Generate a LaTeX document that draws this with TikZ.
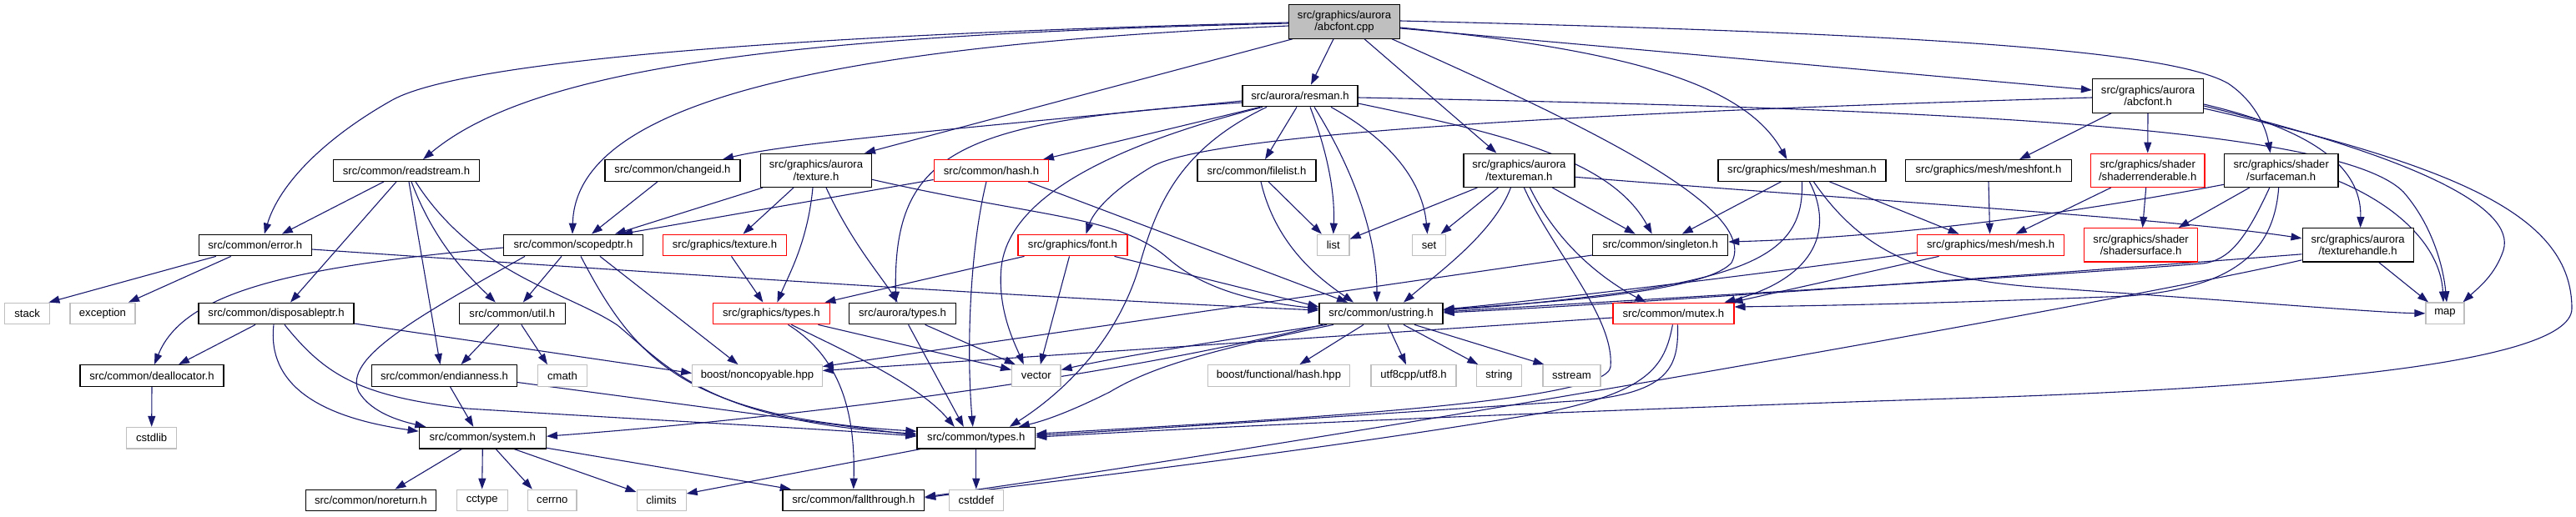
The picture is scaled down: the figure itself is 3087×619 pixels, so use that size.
\documentclass[tikz,border=0pt]{standalone}
\usepackage{fontspec}
\setmainfont{Liberation Sans}
\usetikzlibrary{arrows.meta}
\pgfdeclarelayer{bglayer}
\pgfdeclarelayer{edgelayer}
\pgfsetlayers{bglayer,edgelayer,main}
\definecolor{mblue}{RGB}{25,25,112}
\definecolor{greyc}{RGB}{191,191,191}
\newcommand{\dxfont}{\fontsize{13.1}{14.5}\selectfont}
\tikzset{
  nb/.style={draw=black, line width=1.2pt, fill=white, inner sep=0pt, minimum height=25.6pt, font=\dxfont, align=center},
  nr/.style={nb, draw=red},
  ng/.style={nb, draw=greyc},
  two/.style={minimum height=40.3pt},
  e/.style={draw=mblue, line width=1.1pt, -{Triangle[length=13pt,width=9pt]}},
}
\begin{document}
\begin{tikzpicture}[x=1pt,y=-1pt]
\useasboundingbox (0,0) rectangle (3087,619);
\begin{pgfonlayer}{bglayer}
\fill[white] (0,0) rectangle (3087,619);
\end{pgfonlayer}
% row 0-1
\node[nb, two, fill=greyc, minimum width=133pt] (root) at (1611,26) {src/graphics/aurora\\/abcfont.cpp};
\node[nb, minimum width=138pt] (resman) at (1558,115) {src/aurora/resman.h};
\node[nb, two, minimum width=133pt] (abcfonth) at (2574,115) {src/graphics/aurora\\/abcfont.h};
% row 2
\node[nb, minimum width=175pt] (readstream) at (487,204.5) {src/common/readstream.h};
\node[nb, minimum width=162pt] (changeid) at (806,204.5) {src/common/changeid.h};
\node[nb, two, minimum width=133pt] (atexture) at (978,204.3) {src/graphics/aurora\\/texture.h};
\node[nr, minimum width=137.5pt] (hash) at (1188,204.5) {src/common/hash.h};
\node[nb, minimum width=142pt] (filelist) at (1506,204.5) {src/common/filelist.h};
\node[nb, two, minimum width=133pt] (textureman) at (1820.4,204.3) {src/graphics/aurora\\/textureman.h};
\node[nb, minimum width=201pt] (meshman) at (2159.4,204.5) {src/graphics/mesh/meshman.h};
\node[nb, minimum width=199pt] (meshfont) at (2383,204.5) {src/graphics/mesh/meshfont.h};
\node[nr, two, minimum width=136.5pt] (shaderrend) at (2573.7,204.3) {src/graphics/shader\\/shaderrenderable.h};
\node[nb, two, minimum width=136.5pt] (surfaceman) at (2733.7,204.3) {src/graphics/shader\\/surfaceman.h};
% row 3
\node[nb, minimum width=135pt] (error) at (305.8,294) {src/common/error.h};
\node[nb, minimum width=167pt] (scopedptr) at (687,294) {src/common/scopedptr.h};
\node[nr, minimum width=148pt] (gtexture) at (868.5,294) {src/graphics/texture.h};
\node[nr, minimum width=131pt] (font) at (1285.5,294) {src/graphics/font.h};
\node[ng, minimum width=38.5pt] (list) at (1597.8,294) {list};
\node[ng, minimum width=40pt] (set) at (1712.5,294) {set};
\node[nb, minimum width=162pt] (singleton) at (1989.7,294) {src/common/singleton.h};
\node[nr, minimum width=176pt] (mesh) at (2385.6,294) {src/graphics/mesh/mesh.h};
\node[nr, two, minimum width=136pt] (shadersurf) at (2565.6,293.8) {src/graphics/shader\\/shadersurface.h};
\node[nb, two, minimum width=133pt] (texhandle) at (2825.6,293.8) {src/graphics/aurora\\/texturehandle.h};
% row 4
\node[ng, minimum width=54.4pt] (stack) at (32.6,376) {stack};
\node[ng, minimum width=78pt] (exception) at (123,376) {exception};
\node[nb, minimum width=186pt] (disposable) at (331,376) {src/common/disposableptr.h};
\node[nb, minimum width=127pt] (util) at (613.8,376) {src/common/util.h};
\node[nr, minimum width=140pt] (gtypes) at (924.4,376) {src/graphics/types.h};
\node[nb, minimum width=127.5pt] (atypes) at (1081.6,376) {src/aurora/types.h};
\node[nb, minimum width=148pt] (ustring) at (1655,376) {src/common/ustring.h};
\node[nr, minimum width=145pt] (mutex) at (2005.4,376) {src/common/mutex.h};
\node[ng, minimum width=46pt] (map) at (2930,375.8) {map};
% row 5
\node[nb, minimum width=172pt] (dealloc) at (182,450.5) {src/common/deallocator.h};
\node[nb, minimum width=174pt] (endian) at (532.5,450.5) {src/common/endianness.h};
\node[ng, minimum width=59pt] (cmath) at (674,450.5) {cmath};
\node[ng, minimum width=155.5pt] (noncopy) at (907.5,450.5) {boost/noncopyable.hpp};
\node[ng, minimum width=58.5pt] (vector) at (1241.8,450.5) {vector};
\node[ng, minimum width=170pt] (fhash) at (1532.4,450.5) {boost/functional/hash.hpp};
\node[ng, minimum width=102pt] (utf8) at (1694,450.5) {utf8cpp/utf8.h};
\node[ng, minimum width=54pt] (string) at (1796.3,450.5) {string};
\node[ng, minimum width=69pt] (sstream) at (1883.4,450.5) {sstream};
% row 6
\node[ng, minimum width=60pt] (cstdlib) at (181.7,525.2) {cstdlib};
\node[nb, minimum width=152pt] (system) at (578.3,525.2) {src/common/system.h};
\node[nb, minimum width=141.7pt] (types) at (1169.8,525.2) {src/common/types.h};
% row 7
\node[nb, minimum width=156pt] (noreturn) at (444.4,600) {src/common/noreturn.h};
\node[ng, minimum width=61pt] (cctype) at (577.7,600) {cctype};
\node[ng, minimum width=58.5pt] (cerrno) at (661.8,600) {cerrno};
\node[ng, minimum width=59pt] (climits) at (792.6,600) {climits};
\node[nb, minimum width=169.5pt] (fallthrough) at (1022.8,600) {src/common/fallthrough.h};
\node[ng, minimum width=65pt] (cstddef) at (1169.8,600) {cstddef};

\begin{pgfonlayer}{edgelayer}
% root
\draw[e] ([yshift=-1pt]root.west) .. controls (1000,40) and (560,70) .. (470,120) .. controls (390,165) and (335,220) .. ([xshift=11pt]error.north);
\draw[e] ([yshift=-2pt]root.west) .. controls (950,42) and (640,80) .. ([xshift=20pt]readstream.north);
\draw[e] ([yshift=-5pt]root.west) .. controls (1000,55) and (690,120) .. ([xshift=-1pt]scopedptr.north);
\draw[e] ([xshift=-62pt]root.south) -- ([xshift=58pt]atexture.north);
\draw[e] ([xshift=-13pt]root.south) -- ([xshift=13pt]resman.north);
\draw[e] ([xshift=24pt]root.south) -- ([xshift=-27pt]textureman.north);
\draw[e] ([xshift=57pt]root.south) .. controls (1900,150) and (2110,250) .. (2075,315) .. controls (2040,355) and (1800,365) .. ([yshift=4pt]ustring.east);
\draw[e] ([yshift=-7pt]root.east) .. controls (1950,60) and (2090,100) .. ([xshift=-18pt]meshman.north);
\draw[e] ([yshift=-8pt]root.east) -- ([yshift=7pt]abcfonth.west);
\draw[e] ([yshift=1pt]root.east) .. controls (2300,40) and (2600,60) .. (2670,100) .. controls (2700,120) and (2715,150) .. ([xshift=-13pt]surfaceman.north);
% resman
\draw[e] ([yshift=-6pt]resman.west) .. controls (1200,150) and (950,170) .. ([xshift=60pt]changeid.north);
\draw[e] ([yshift=-8pt]resman.west) .. controls (1150,145) and (1070,180) .. ([xshift=-8pt]atypes.north);
\draw[e] ([xshift=-48pt]resman.south) -- ([xshift=62pt]hash.north);
\draw[e] ([xshift=-45pt]resman.south) .. controls (1350,170) and (1210,230) .. (1200,320) .. controls (1195,370) and (1215,410) .. ([xshift=-15pt]vector.north);
\draw[e] ([xshift=-40pt]resman.south) .. controls (1410,180) and (1385,250) .. (1365,320) .. controls (1335,420) and (1260,480) .. ([xshift=40pt]types.north);
\draw[e] ([xshift=-4pt]resman.south) -- ([xshift=10pt]filelist.north);
\draw[e] ([xshift=12pt]resman.south) .. controls (1590,180) and (1600,230) .. (list.north);
\draw[e] ([xshift=17pt]resman.south) .. controls (1620,200) and (1650,280) .. ([xshift=-5pt]ustring.north);
\draw[e] ([xshift=37pt]resman.south) .. controls (1670,170) and (1705,220) .. ([xshift=-2pt]set.north);
\draw[e] ([yshift=-9pt]resman.east) .. controls (1800,160) and (1930,190) .. ([xshift=-10pt]singleton.north);
\draw[e] ([yshift=-2pt]resman.east) .. controls (2300,130) and (2800,150) .. (2880,230) .. controls (2915,270) and (2928,320) .. ([xshift=2pt]map.north);
% abcfont.h
\draw[e] ([xshift=-44pt]abcfonth.south) -- ([xshift=37pt]meshfont.north);
\draw[e] (abcfonth.south) -- (shaderrend.north);
\draw[e] ([yshift=-2pt]abcfonth.west) .. controls (1900,135) and (1450,160) .. (1380,200) .. controls (1330,230) and (1310,255) .. ([xshift=16pt]font.north);
\draw[e] ([yshift=-10pt]abcfonth.east) .. controls (2790,160) and (2830,210) .. ([xshift=3pt]texhandle.north);
\draw[e] ([yshift=-12pt]abcfonth.east) .. controls (2900,190) and (3015,250) .. (3000,300) .. controls (2990,330) and (2970,345) .. ([xshift=-2pt]map.north east);
\draw[e] ([yshift=-15pt]abcfonth.east) .. controls (2950,200) and (3082,260) .. (3082,370) .. controls (3082,440) and (2700,465) .. (2400,476) .. controls (1800,495) and (1400,515) .. ([yshift=1pt]types.east);
% textureman
\draw[e] ([xshift=-50pt]textureman.south) -- ([yshift=-6pt]list.north east);
\draw[e] ([xshift=-25pt]textureman.south) -- ([xshift=14pt]set.north);
\draw[e] ([xshift=-10pt]textureman.south) .. controls (1790,280) and (1720,330) .. ([xshift=27pt]ustring.north);
\draw[e] ([xshift=6pt]textureman.south) .. controls (1860,300) and (1935,380) .. (1930,440) .. controls (1925,480) and (1600,500) .. ([yshift=5pt]types.east);
\draw[e] ([xshift=13pt]textureman.south) .. controls (1870,300) and (1930,340) .. ([xshift=-33pt]mutex.north);
\draw[e] ([xshift=40pt]textureman.south) -- ([xshift=-30pt]singleton.north);
\draw[e] ([yshift=-8pt]textureman.east) .. controls (2300,245) and (2600,262) .. ([yshift=8pt]texhandle.west);
% meshman
\draw[e] ([xshift=-25pt]meshman.south) -- ([xshift=26pt]singleton.north);
\draw[e] ([xshift=33pt]meshman.south) -- ([xshift=-38pt]mesh.north);
\draw[e] (meshman.south) .. controls (2162,290) and (2120,325) .. (1950,350) .. controls (1830,366) and (1760,370) .. ([yshift=4pt]ustring.east);
\draw[e] ([xshift=9pt]meshman.south) .. controls (2200,280) and (2170,335) .. ([xshift=-12pt]mutex.north east);
\draw[e] ([xshift=14pt]meshman.south) .. controls (2230,300) and (2300,335) .. (2450,345) .. controls (2700,362) and (2850,375) .. (map.west);
% meshfont, shaderrenderable
\draw[e] (meshfont.south) -- ([xshift=-1pt]mesh.north);
\draw[e] ([xshift=-44pt]shaderrend.south) -- ([xshift=30pt]mesh.north);
\draw[e] ([xshift=-2pt]shaderrend.south) -- ([xshift=2pt]shadersurf.north);
% surfaceman
\draw[e] ([yshift=-17pt]surfaceman.west) .. controls (2450,262) and (2250,285) .. ([yshift=4pt]singleton.east);
\draw[e] ([xshift=-38pt]surfaceman.south) -- ([xshift=45pt]shadersurf.north);
\draw[e] ([xshift=-14pt]surfaceman.south) .. controls (2690,290) and (2670,312) .. (2640,316) .. controls (2400,335) and (1900,363) .. ([yshift=2pt]ustring.east);
\draw[e] ([xshift=-3pt]surfaceman.south) .. controls (2725,300) and (2680,345) .. (2550,355) .. controls (2300,365) and (2150,367) .. ([yshift=8pt]mutex.east);
\draw[e] ([yshift=-13pt]surfaceman.east) .. controls (2880,250) and (2925,300) .. ([xshift=-2pt]map.north);
% texturehandle
\draw[e] ([xshift=25pt]texhandle.south) -- ([xshift=-20pt]map.north);
\draw[e] ([yshift=-11pt]texhandle.west) .. controls (2500,325) and (1950,365) .. ([yshift=1pt]ustring.east);
\draw[e] ([yshift=-18pt]texhandle.west) .. controls (2550,360) and (1650,520) .. ([yshift=4pt]fallthrough.east);
% mesh
\draw[e] ([yshift=-9pt]mesh.west) .. controls (2100,330) and (1850,360) .. ([yshift=5pt]ustring.east);
\draw[e] ([xshift=-62pt]mesh.south) -- ([xshift=-3pt]mutex.north east);
% singleton, mutex
\draw[e] ([yshift=-12pt]singleton.west) -- ([yshift=11pt]noncopy.east);
\draw[e] ([yshift=-5pt]mutex.west) -- ([yshift=6pt]noncopy.east);
\draw[e] ([xshift=5pt]mutex.south) .. controls (2012,440) and (2000,470) .. (1900,480) .. controls (1600,500) and (1350,516) .. ([yshift=3pt]types.east);
\draw[e] ([xshift=-1pt]mutex.south) .. controls (1995,440) and (1975,470) .. (1850,495) .. controls (1550,545) and (1250,578) .. ([yshift=3pt]fallthrough.east);
% ustring
\draw[e] ([xshift=-21pt]ustring.south) -- ([xshift=25pt]fhash.north);
\draw[e] ([xshift=8pt]ustring.south) -- ([xshift=-9pt]utf8.north);
\draw[e] ([xshift=27pt]ustring.south) -- ([xshift=-25pt]string.north);
\draw[e] ([xshift=40pt]ustring.south) -- ([xshift=-33pt]sstream.north);
\draw[e] ([xshift=-65pt]ustring.south) .. controls (1450,410) and (1330,430) .. ([yshift=7pt]vector.east);
\draw[e] ([xshift=-57pt]ustring.south) .. controls (1450,420) and (1380,440) .. (1330,470) .. controls (1280,495) and (1250,505) .. ([xshift=51pt]types.north);
\draw[e] ([xshift=-70pt]ustring.south) .. controls (1300,460) and (900,505) .. ([yshift=2pt]system.east);
% error
\draw[e] ([xshift=-47pt]error.south) -- ([xshift=-2pt]stack.north east);
\draw[e] ([xshift=-29pt]error.south) -- ([xshift=31pt]exception.north);
\draw[e] ([yshift=-5pt]error.east) .. controls (900,335) and (1300,360) .. ([yshift=4pt]ustring.west);
% readstream
\draw[e] ([xshift=-27pt]readstream.south) -- ([xshift=32pt]error.north);
\draw[e] ([xshift=-12pt]readstream.south) -- ([xshift=17pt]disposable.north);
\draw[e] ([xshift=3pt]readstream.south) -- ([xshift=-5pt]endian.north);
\draw[e] ([xshift=6pt]readstream.south) .. controls (520,290) and (560,330) .. ([xshift=-20pt]util.north);
\draw[e] ([xshift=11pt]readstream.south) .. controls (570,330) and (680,350) .. (740,390) .. controls (800,440) and (850,505) .. ([yshift=5pt]types.west);
% scopedptr
\draw[e] ([yshift=-3pt]scopedptr.west) .. controls (350,320) and (220,350) .. ([xshift=3pt]dealloc.north);
\draw[e] ([xshift=-58pt]scopedptr.south) .. controls (500,380) and (410,430) .. (430,470) .. controls (445,495) and (480,505) .. ([xshift=-68pt]system.north);
\draw[e] ([xshift=-14pt]scopedptr.south) -- ([xshift=13pt]util.north);
\draw[e] ([xshift=9pt]scopedptr.south) .. controls (760,430) and (820,500) .. ([yshift=8pt]types.west);
\draw[e] ([xshift=32pt]scopedptr.south) -- ([xshift=-23pt]noncopy.north);
% graphics/texture, aurora/texture
\draw[e] ([xshift=8pt]gtexture.south) -- ([xshift=-10pt]gtypes.north);
\draw[e] ([xshift=-64pt]atexture.south) -- ([xshift=50pt]scopedptr.north);
\draw[e] ([xshift=-27pt]atexture.south) -- ([xshift=22pt]gtexture.north);
\draw[e] ([xshift=-4pt]atexture.south) .. controls (968,290) and (945,330) .. ([xshift=7pt]gtypes.north);
\draw[e] ([xshift=12pt]atexture.south) .. controls (1020,290) and (1055,330) .. ([xshift=-6pt]atypes.north);
\draw[e] ([yshift=-11pt]atexture.east) .. controls (1250,262) and (1340,258) .. (1400,310) .. controls (1440,345) and (1500,362) .. ([yshift=6pt]ustring.west);
% hash, filelist, changeid
\draw[e] ([yshift=-11pt]hash.west) -- ([xshift=58pt]scopedptr.north);
\draw[e] ([xshift=-6pt]hash.south) .. controls (1162,300) and (1158,420) .. ([xshift=-4pt]types.north);
\draw[e] ([xshift=44pt]hash.south) -- ([xshift=-40pt]ustring.north);
\draw[e] ([xshift=14pt]filelist.south) -- ([xshift=-14pt]list.north);
\draw[e] ([xshift=5pt]filelist.south) .. controls (1530,300) and (1590,340) .. ([xshift=-33pt]ustring.north);
\draw[e] ([xshift=-18pt]changeid.south) -- ([xshift=22pt]scopedptr.north);
% font
\draw[e] ([xshift=-58pt]font.south) -- ([xshift=64pt]gtypes.north);
\draw[e] ([xshift=-4pt]font.south) -- ([xshift=5pt]vector.north);
\draw[e] ([xshift=50pt]font.south) -- ([yshift=8pt]ustring.west);
% graphics/types, aurora/types
\draw[e] ([xshift=56pt]gtypes.south) -- ([yshift=7pt]vector.west);
\draw[e] ([xshift=24pt]gtypes.south) .. controls (1010,420) and (1100,460) .. ([xshift=-26pt]types.north);
\draw[e] ([xshift=20pt]gtypes.south) .. controls (1010,430) and (1025,500) .. (fallthrough.north);
\draw[e] ([xshift=7pt]atypes.south) -- ([xshift=-15pt]types.north);
\draw[e] ([xshift=27pt]atypes.south) -- ([xshift=-25pt]vector.north);
% disposableptr
\draw[e] ([xshift=-25pt]disposable.south) -- ([xshift=32pt]dealloc.north);
\draw[e] ([xshift=-3pt]disposable.south) .. controls (320,460) and (380,500) .. ([yshift=8pt]system.west);
\draw[e] ([xshift=10pt]disposable.south) .. controls (390,450) and (430,475) .. (560,490) .. controls (800,505) and (1000,515) .. ([yshift=2pt]types.west);
\draw[e] ([yshift=-12pt]disposable.east) -- ([yshift=3pt]noncopy.west);
% util, endianness
\draw[e] ([xshift=-16pt]util.south) -- ([xshift=20pt]endian.north);
\draw[e] ([xshift=11pt]util.south) -- ([xshift=-18pt]cmath.north);
\draw[e] ([xshift=7pt]endian.south) -- ([xshift=-11pt]system.north);
\draw[e] ([yshift=-8pt]endian.east) -- ([yshift=3pt]types.west);
% system
\draw[e] ([xshift=-25pt]system.south) -- ([xshift=29pt]noreturn.north);
\draw[e] (system.south) -- (cctype.north);
\draw[e] ([xshift=16pt]system.south) -- ([xshift=-24pt]cerrno.north);
\draw[e] ([xshift=38pt]system.south) -- ([yshift=10pt]climits.west);
\draw[e] ([yshift=-12pt]system.east) -- ([xshift=-75pt]fallthrough.north);
% deallocator, types
\draw[e] (dealloc.south) -- (cstdlib.north);
\draw[e] ([xshift=-67pt]types.south) -- ([yshift=8pt]climits.east);
\draw[e] (types.south) -- (cstddef.north);
\end{pgfonlayer}
\end{tikzpicture}
\end{document}
